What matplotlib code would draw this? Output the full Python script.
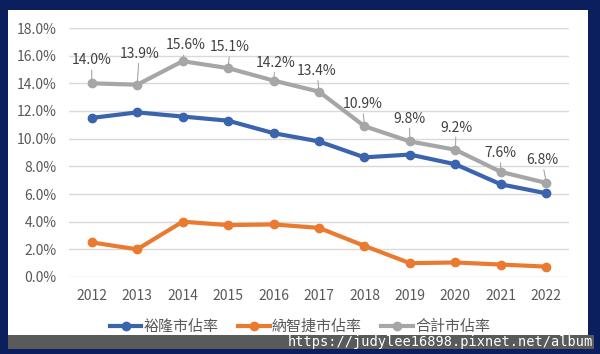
#!/usr/bin/env python3

import matplotlib.pyplot as plt
from matplotlib.patches import Rectangle
from matplotlib.ticker import FuncFormatter

plt.rcParams['font.family'] = ['Noto Sans CJK TC', 'DejaVu Sans']

years = [2012, 2013, 2014, 2015, 2016, 2017, 2018, 2019, 2020, 2021, 2022]
yulon = [11.5, 11.9, 11.6, 11.3, 10.4, 9.8, 8.65, 8.85, 8.15, 6.7, 6.05]
luxgen = [2.5, 2.0, 4.0, 3.75, 3.8, 3.55, 2.25, 1.0, 1.05, 0.9, 0.75]
total = [14.0, 13.9, 15.6, 15.1, 14.2, 13.4, 10.9, 9.8, 9.2, 7.6, 6.8]
names = ['裕隆市佔率', '納智捷市佔率', '合計市佔率']
# label offsets (points) for the total series, label centre vs point
label_dx = [0, 1.5, 2, 1.5, 1.5, -1.5, -1.5, -0.5, 0.5, -0.5, -3]
label_dy = [16.5, 22.3, 11.5, 15, 13, 15, 16, 16.5, 16, 13.7, 16.5]

navy = '#0b1f5e'
blue = '#3a64ad'
orange = '#ea7a30'
gray = '#a6a6a6'
text = '#595959'


def main():
    fig = plt.figure(figsize=(6, 3.54), dpi=100, facecolor=navy)
    fig.patches.append(Rectangle((8 / 600, 1 - 335 / 354), 580 / 600, 325 / 354,
                                 transform=fig.transFigure, facecolor='white',
                                 edgecolor='none', zorder=-10))
    fig.patches.append(Rectangle((8 / 600, 1 - 349 / 354), 586 / 600, 14 / 354,
                                 transform=fig.transFigure, facecolor='#5a5a5a',
                                 edgecolor='none', zorder=-10))
    fig.text(593 / 600, 1 - 342 / 354, 'https://judylee16898.pixnet.net/album',
             family='DejaVu Sans Mono', fontsize=9.8, color='white',
             ha='right', va='center')

    ax = fig.add_axes([69 / 600, 1 - 277 / 354, 500 / 600, 249 / 354])
    ax.set_facecolor('none')
    x = list(range(len(years)))

    ax.plot(x, yulon, color=blue, lw=3, marker='o', ms=6, label=names[0], zorder=3)
    ax.plot(x, luxgen, color=orange, lw=3, marker='o', ms=6, label=names[1], zorder=3)
    ax.plot(x, total, color=gray, lw=3, marker='o', ms=6, label=names[2], zorder=3)

    for i, v in enumerate(total):
        ax.annotate(f'{v:.1f}%', (i, v), xytext=(label_dx[i], label_dy[i]),
                    textcoords='offset points', ha='center', va='center',
                    fontsize=10, color='#404040',
                    arrowprops=dict(arrowstyle='-', color='#a6a6a6', lw=0.8,
                                    shrinkA=0, shrinkB=2))

    ax.set_xlim(-0.5, len(years) - 0.5)
    ax.set_ylim(0, 18)
    ax.set_yticks(range(0, 19, 2))
    ax.yaxis.set_major_formatter(FuncFormatter(lambda v, p: f'{v:.1f}%'))
    ax.set_xticks(x)
    ax.set_xticklabels([str(y) for y in years])
    ax.tick_params(length=0, labelsize=10, labelcolor=text, pad=9)
    ax.grid(axis='y', color='#d9d9d9', lw=1)
    ax.set_axisbelow(True)
    for s in ax.spines.values():
        s.set_visible(False)

    leg = ax.legend(loc='center', bbox_to_anchor=(0.462, -0.2), ncol=3,
                    frameon=False, fontsize=10.8, handlelength=2.1,
                    columnspacing=1.3, handletextpad=0.15)
    for t in leg.get_texts():
        t.set_color(text)

    fig.savefig('out.png', dpi=100, facecolor=navy)


if __name__ == '__main__':
    main()
